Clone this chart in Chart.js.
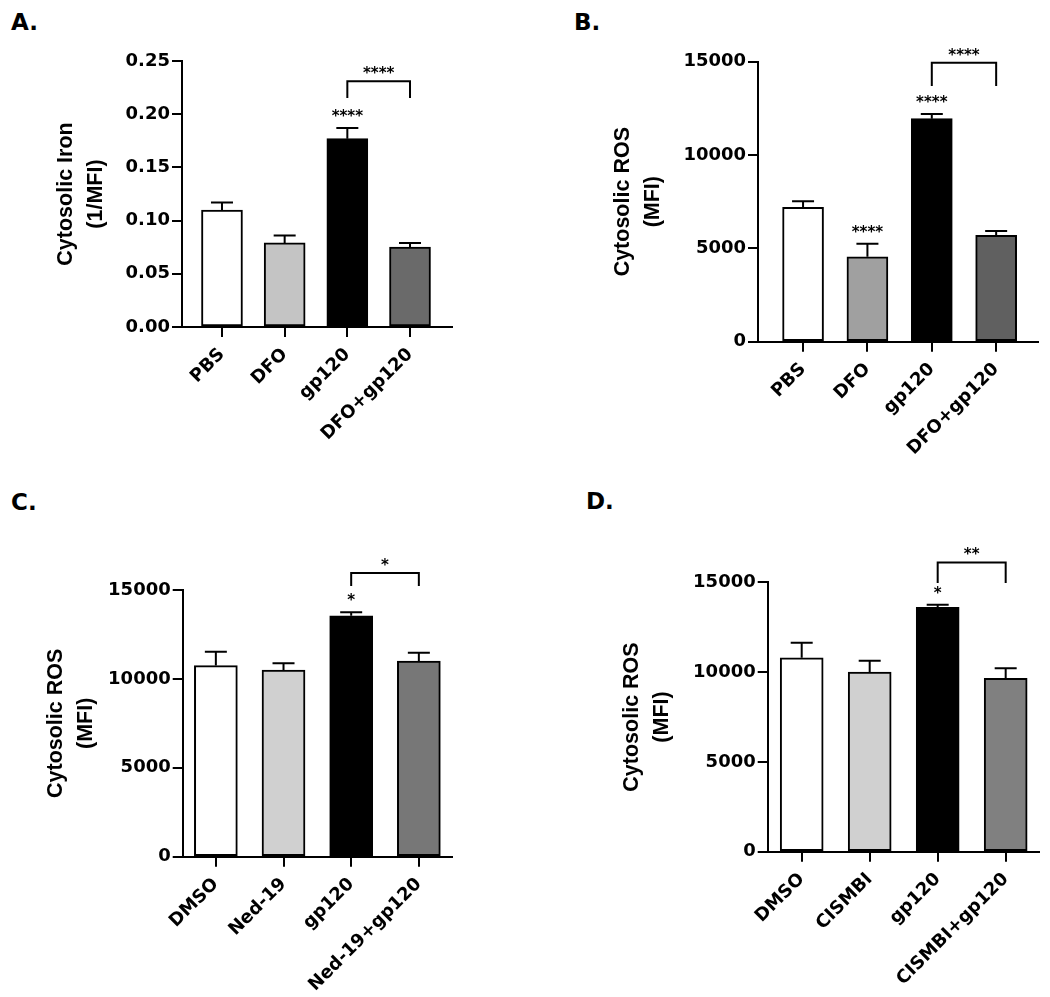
<!DOCTYPE html>
<html><head><meta charset="utf-8">
<script src="https://cdn.jsdelivr.net/npm/chart.js@4.4.1/dist/chart.umd.min.js"></script>
<style>
body{margin:0;background:#fff;width:1050px;height:997px;position:relative;overflow:hidden}
canvas{position:absolute}
.lbl{position:absolute;font:bold 23px "DejaVu Sans";line-height:23px;color:#000}
</style></head><body>
<div class="lbl" style="left:11px;top:11px">A.</div>
<div class="lbl" style="left:574px;top:11px">B.</div>
<div class="lbl" style="left:11px;top:491px">C.</div>
<div class="lbl" style="left:586px;top:490px">D.</div>
<canvas id="cA" width="520" height="470" style="left:0;top:0"></canvas>
<canvas id="cB" width="525" height="470" style="left:525px;top:0"></canvas>
<canvas id="cC" width="520" height="527" style="left:0;top:470px"></canvas>
<canvas id="cD" width="525" height="527" style="left:525px;top:470px"></canvas>
<script>
// ---- data ----
const catsA = ['PBS', 'DFO', 'gp120', 'DFO+gp120'];
const meanA = [0.110, 0.079, 0.177, 0.075];
const semA  = [0.007, 0.007, 0.010, 0.004];
const yTicksA = [0, 0.05, 0.10, 0.15, 0.20, 0.25];

const catsB = ['PBS', 'DFO', 'gp120', 'DFO+gp120'];
const meanB = [7200, 4550, 11950, 5700];
const semB  = [330, 700, 250, 230];

const catsC = ['DMSO', 'Ned-19', 'gp120', 'Ned-19+gp120'];
const meanC = [10750, 10500, 13550, 11000];
const semC  = [780, 380, 200, 470];

const catsD = ['DMSO', 'CISMBI', 'gp120', 'CISMBI+gp120'];
const meanD = [10800, 10000, 13600, 9650];
const semD  = [830, 630, 150, 560];

const yTicksROS = [0, 5000, 10000, 15000];

// significance annotations (in data units)
const sigA = {marks: [{i: 2, text: '****'}], bracket: {from: 2, to: 3, y: 0.231, drop: 0.2152, text: '****'}};
const sigB = {marks: [{i: 1, text: '****'}, {i: 2, text: '****'}], bracket: {from: 2, to: 3, y: 14950, drop: 13700, text: '****'}};
const sigC = {marks: [{i: 2, text: '*'}], bracket: {from: 2, to: 3, y: 15950, drop: 15230, text: '*'}};
const sigD = {marks: [{i: 2, text: '*'}], bracket: {from: 2, to: 3, y: 16100, drop: 14960, text: '**'}};

Chart.defaults.font.family = '"DejaVu Sans", sans-serif';
Chart.defaults.font.weight = 'bold';
Chart.defaults.color = '#000';

const annot = {
  id: 'annot',
  afterDatasetsDraw(chart, args, opts) {
    const ctx = chart.ctx, xs = chart.scales.x, ys = chart.scales.y;
    const mean = opts.mean, sem = opts.sem;
    ctx.save();
    ctx.strokeStyle = '#000';
    ctx.lineWidth = 2;
    ctx.lineCap = 'butt';
    const capHalf = 11;
    mean.forEach((m, i) => {
      const x = xs.getPixelForValue(i);
      const y0 = ys.getPixelForValue(m);
      const y1 = ys.getPixelForValue(m + sem[i]);
      ctx.beginPath();
      ctx.moveTo(x, y0); ctx.lineTo(x, y1);
      ctx.moveTo(x - capHalf, y1); ctx.lineTo(x + capHalf, y1);
      ctx.stroke();
    });
    ctx.fillStyle = '#000';
    ctx.font = 'bold 15px "DejaVu Sans"';
    ctx.textAlign = 'center';
    ctx.textBaseline = 'middle';
    const sig = opts.sig;
    sig.marks.forEach(mk => {
      const x = xs.getPixelForValue(mk.i);
      const y = ys.getPixelForValue(mean[mk.i] + sem[mk.i]) - 15;
      ctx.fillText(mk.text, x, y + 4);
    });
    const b = sig.bracket;
    const xa = xs.getPixelForValue(b.from), xb = xs.getPixelForValue(b.to);
    const yb = ys.getPixelForValue(b.y), yd = ys.getPixelForValue(b.drop);
    ctx.beginPath();
    ctx.moveTo(xa, yd); ctx.lineTo(xa, yb); ctx.lineTo(xb, yb); ctx.lineTo(xb, yd);
    ctx.stroke();
    ctx.fillText(b.text, (xa + xb) / 2, yb - 11 + 4);
    ctx.restore();
  }
};

function makePanel(id, p) {
  const canvas = document.getElementById(id);
  const W = canvas.width, H = canvas.height;
  new Chart(canvas, {
    type: 'bar',
    data: {
      datasets: [{
        data: p.mean.map((v, i) => ({x: i, y: v})),
        backgroundColor: p.colors,
        borderColor: '#000',
        borderWidth: 2,
        borderSkipped: false,
        barThickness: p.barW
      }]
    },
    options: {
      responsive: false,
      animation: false,
      devicePixelRatio: 1,
      layout: {padding: {top: p.area.top, right: W - p.area.right, left: 0, bottom: 0}},
      plugins: {legend: {display: false}, tooltip: {enabled: false},
        annot: {mean: p.mean, sem: p.sem, sig: p.sig}},
      scales: {
        x: {
          type: 'linear', min: p.xmin, max: p.xmax, offset: false,
          afterBuildTicks: s => { s.ticks = p.cats.map((c, i) => ({value: i})); },
          afterFit: s => { s.height = H - p.area.bottom; },
          ticks: {autoSkip: false, minRotation: 45, maxRotation: 45, padding: 7,
            font: {size: 18, weight: 'bold', family: '"DejaVu Sans"'},
            callback: v => p.cats[v]},
          grid: {display: true, offset: false, drawOnChartArea: false, drawTicks: true, tickLength: 10, color: '#000', lineWidth: 2},
          border: {display: true, color: '#000', width: 2}
        },
        y: {
          min: p.yTicks[0], max: p.yTicks[p.yTicks.length - 1],
          afterBuildTicks: s => { s.ticks = p.yTicks.map(v => ({value: v})); },
          afterFit: s => { s.width = p.area.left; },
          ticks: {padding: 2, font: {size: 18, weight: 'bold', family: '"DejaVu Sans"'},
            callback: v => p.fmt(v)},
          grid: {display: true, drawOnChartArea: false, drawTicks: true, tickLength: 10, color: '#000', lineWidth: 2},
          border: {display: true, color: '#000', width: 2},
          title: {display: true, text: p.title, padding: {top: p.titlePad, bottom: 0},
            font: {size: 21.5, weight: 'bold', family: '"Liberation Sans", Arial', lineHeight: '30px'}}
        }
      }
    },
    plugins: [annot]
  });
}

makePanel('cA', {cats: catsA, mean: meanA, sem: semA, yTicks: yTicksA, fmt: v => v.toFixed(2),
  colors: ['#ffffff', '#c4c4c4', '#000000', '#6a6a6a'], title: ['Cytosolic Iron', '(1/MFI)'],
  area: {left: 182, right: 452, top: 61, bottom: 327}, xmin: -0.638, xmax: 3.67, barW: 41, titlePad: 51, sig: sigA});
makePanel('cB', {cats: catsB, mean: meanB, sem: semB, yTicks: yTicksROS, fmt: v => String(v),
  colors: ['#ffffff', '#a0a0a0', '#000000', '#606060'], title: ['Cytosolic ROS', '(MFI)'],
  area: {left: 233, right: 513, top: 61.7, bottom: 341.7}, xmin: -0.70, xmax: 3.65, barW: 41, titlePad: 83, sig: sigB});
makePanel('cC', {cats: catsC, mean: meanC, sem: semC, yTicks: yTicksROS, fmt: v => String(v),
  colors: ['#ffffff', '#d0d0d0', '#000000', '#777777'], title: ['Cytosolic ROS', '(MFI)'],
  area: {left: 182.7, right: 452, top: 120, bottom: 386.7}, xmin: -0.49, xmax: 3.49, barW: 43, titlePad: 41, sig: sigC});
makePanel('cD', {cats: catsD, mean: meanD, sem: semD, yTicks: yTicksROS, fmt: v => String(v),
  colors: ['#ffffff', '#d0d0d0', '#000000', '#808080'], title: ['Cytosolic ROS', '(MFI)'],
  area: {left: 242.7, right: 514, top: 112.3, bottom: 381.7}, xmin: -0.50, xmax: 3.49, barW: 43, titlePad: 92, sig: sigD});
</script>
</body></html>
